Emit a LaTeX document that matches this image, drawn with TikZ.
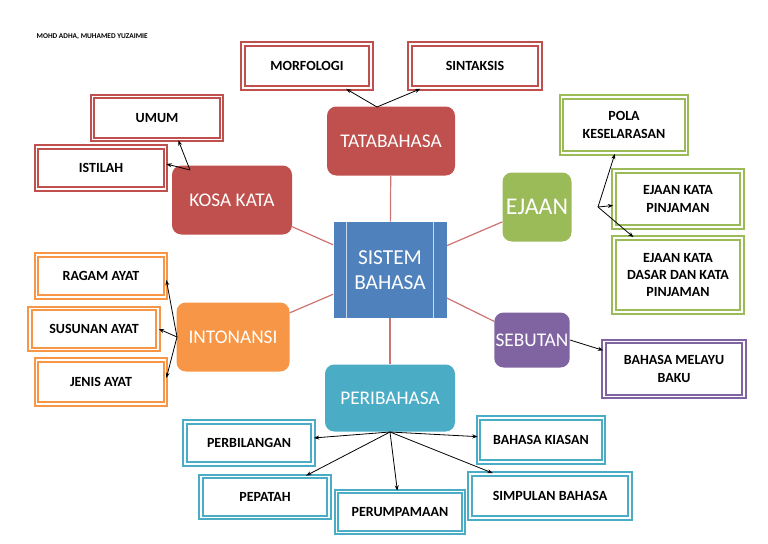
\documentclass[tikz,border=0pt]{standalone}
\usepackage{fontspec}
\setmainfont{Carlito}
\usetikzlibrary{positioning,arrows.meta}

\definecolor{cred}{HTML}{C0504D}
\definecolor{cgreen}{HTML}{9BBB59}
\definecolor{corange}{HTML}{F79646}
\definecolor{cpurple}{HTML}{8064A2}
\definecolor{cteal}{HTML}{4BACC6}
\definecolor{cblue}{HTML}{4F81BD}

\tikzset{
  boxsize/.style 2 args={minimum width=#1*0.75pt, minimum height=#2*0.75pt},
  topic/.style={rectangle, rounded corners=7pt, fill=#1, text=white, font=\fontsize{14.5}{16}\selectfont, inner sep=1pt},
  leaf/.style={rectangle, draw=#1, line width=1.3pt, double=white, double distance=1.2pt, fill=white, align=center, font=\bfseries\fontsize{10.5}{13}\selectfont, inner sep=1pt},
  spoke/.style={draw=cred!80, line width=0.9pt},
  arr/.style={-{Stealth[length=4pt,width=3pt]}, line width=0.6pt},
}

\begin{document}
\begin{tikzpicture}[x=0.75pt,y=-0.75pt]
\useasboundingbox (0,0) rectangle (768,543);

\node [anchor=west, font=\bfseries\fontsize{5.5}{6}\selectfont] (author) at (32,37) {MOHD ADHA, MUHAMED YUZAIMIE};

% centre
\node [rectangle, fill=cblue, text=white, boxsize={113}{96}, align=center,
  font=\fontsize{16}{19}\selectfont,
  path picture={
    \draw [white!70!cblue, line width=0.8pt]
      ([xshift=10pt]path picture bounding box.north west) -- ([xshift=10pt]path picture bounding box.south west)
      ([xshift=-10pt]path picture bounding box.north east) -- ([xshift=-10pt]path picture bounding box.south east);
  }] (sistem) at (390,270) {SISTEM\\BAHASA};

% topics
\node [topic=cred, boxsize={128}{69}] (tata) at (391,141) {TATABAHASA};
\node [topic=cred, boxsize={120}{69}] (kosa) at (232,200) {KOSA KATA};
\node [topic=cgreen, boxsize={69}{69}, font=\fontsize{18}{20}\selectfont] (ejaan) at (537,207) {EJAAN};
\node [topic=corange, boxsize={113}{69}] (inton) at (233,337) {INTONANSI};
\node [topic=cpurple, boxsize={68}{55}] (sebut) at (532,340) {SEBUTAN};
\node [topic=cteal, boxsize={130}{67}] (peri) at (390,398) {PERIBAHASA};

\foreach \t in {tata,kosa,ejaan,inton,sebut,peri}
  \draw [spoke] (sistem) -- (\t);

% tatabahasa
\node [leaf=cred, boxsize={128}{44}] (morf) at (307,66) {MORFOLOGI};
\node [leaf=cred, boxsize={130}{44}] (sint) at (475,66) {SINTAKSIS};
\coordinate (tatatop) at (377,107);
\draw [arr] (tatatop) -- (morf);
\draw [arr] (tatatop) -- (sint);

% kosa kata
\node [leaf=cred, boxsize={129}{43}] (umum) at (157,118) {UMUM};
\node [leaf=cred, boxsize={129}{42}] (istilah) at (101,168) {ISTILAH};
\coordinate (kosatop) at (190,170);
\draw [arr] (kosatop) -- ([xshift=16pt]umum.south);
\draw [arr] (kosatop) -- ([yshift=3pt]istilah.east);

% ejaan
\node [leaf=cgreen, boxsize={125}{56}] (pola) at (624,125) {POLA\\KESELARASAN};
\node [leaf=cgreen, boxsize={128}{56}] (pinjam) at (678,199) {EJAAN KATA\\PINJAMAN};
\node [leaf=cgreen, boxsize={128}{74}] (dasar) at (678,275) {EJAAN KATA\\DASAR DAN KATA\\PINJAMAN};
\coordinate (ejaanright) at (598,207);
\draw [arr] (ejaanright) -- (pola);
\draw [arr] (ejaanright) -- (pinjam);
\draw [arr] (ejaanright) -- (dasar);

% intonansi
\node [leaf=corange, boxsize={129}{42}] (ragam) at (101,276) {RAGAM AYAT};
\node [leaf=corange, boxsize={128}{41}] (susun) at (94,329) {SUSUNAN AYAT};
\node [leaf=corange, boxsize={129}{44}] (jenis) at (101,382) {JENIS AYAT};
\coordinate (intonleft) at (177,337);
\draw [arr] (intonleft) -- ([yshift=-3pt]ragam.east);
\draw [arr] (intonleft) -- (susun.east);
\draw [arr] (intonleft) -- ([yshift=3pt]jenis.east);

% sebutan
\node [leaf=cpurple, boxsize={140}{55}] (baku) at (674,369) {BAHASA MELAYU\\BAKU};
\draw [arr] (sebut.east) -- ([yshift=14pt]baku.west);

% peribahasa
\node [leaf=cteal, boxsize={128}{42}] (bilang) at (249,443) {PERBILANGAN};
\node [leaf=cteal, boxsize={125}{44}] (kiasan) at (541,440) {BAHASA KIASAN};
\node [leaf=cteal, boxsize={128}{41}] (pepatah) at (265,497) {PEPATAH};
\node [leaf=cteal, boxsize={127}{41}] (umpama) at (400,512) {PERUMPAMAAN};
\node [leaf=cteal, boxsize={160}{44}] (simpul) at (550,496) {SIMPULAN BAHASA};
\coordinate (peribottom) at (390,432);
\foreach \b in {bilang,kiasan,pepatah,umpama,simpul}
  \draw [arr] (peribottom) -- (\b);

\end{tikzpicture}
\end{document}
